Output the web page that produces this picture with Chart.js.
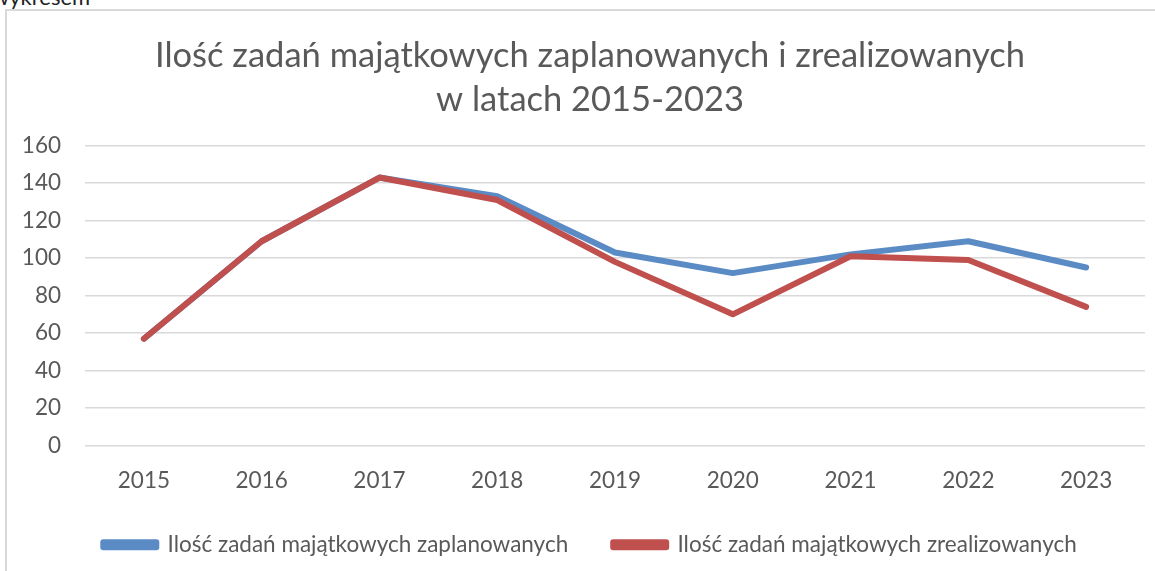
<!DOCTYPE html>
<html>
<head>
    <title>Ilość zadań majątkowych</title>
    <script src="https://cdn.jsdelivr.net/npm/chart.js"></script>
    <style>
        body { margin: 0; overflow: hidden; background: #fff; font-family: Lato, sans-serif; }
        #above { position: absolute; left: -8px; top: -17px; font-size: 22px; color: #222; }
        #frame { position: absolute; left: 5px; top: 9px; width: 1180px; height: 580px;
                 border-left: 2px solid #d9d9d9; border-top: 2px solid #d9d9d9; }
        #box { position: absolute; left: 0; top: 0; width: 1166px; height: 562px; }
    </style>
</head>
<body>
    <div id="above">wykresem</div>
    <div id="frame">
        <div id="box"><canvas id="chart"></canvas></div>
    </div>

    <script>
        const years = ["2015", "2016", "2017", "2018", "2019", "2020", "2021", "2022", "2023"];
        const planned = [57, 109, 143, 133, 103, 92, 102, 109, 95];
        const realized = [57, 109, 143, 131, 98, 70, 101, 99, 74];
        const titleLines = ["Ilość zadań majątkowych zaplanowanych i zrealizowanych", "w latach 2015-2023"];
        const plannedLabel = "Ilość zadań majątkowych zaplanowanych";
        const realizedLabel = "Ilość zadań majątkowych zrealizowanych";

        const textColor = "#595959";
        const ctx = document.getElementById("chart").getContext("2d");

        new Chart(ctx, {
            type: "line",
            data: {
                labels: years,
                datasets: [
                    {
                        label: plannedLabel,
                        data: planned,
                        borderColor: "#5b8bc5",
                        backgroundColor: "#5b8bc5",
                        borderWidth: 6,
                        pointRadius: 0,
                        borderCapStyle: "round",
                        borderJoinStyle: "round",
                        fill: false,
                        tension: 0,
                        order: 1,
                    },
                    {
                        label: realizedLabel,
                        data: realized,
                        borderColor: "#c0504d",
                        backgroundColor: "#c0504d",
                        borderWidth: 6,
                        pointRadius: 0,
                        borderCapStyle: "round",
                        borderJoinStyle: "round",
                        fill: false,
                        tension: 0,
                        order: 0,
                    },
                ],
            },
            options: {
                responsive: true,
                maintainAspectRatio: false,
                animation: false,
                layout: { padding: { left: 0, right: 0, top: 0, bottom: 7 } },
                plugins: {
                    title: {
                        display: true,
                        text: titleLines,
                        color: textColor,
                        font: { family: "Lato", size: 34.5, weight: "normal", lineHeight: 1.3 },
                        padding: { top: 22, bottom: 23 },
                    },
                    legend: {
                        position: "bottom",
                        labels: {
                            color: textColor,
                            font: { family: "Lato", size: 22.5 },
                            boxWidth: 53,
                            boxHeight: 5,
                            padding: 45,
                            sort: (a, b) => a.datasetIndex - b.datasetIndex,
                        },
                    },
                    tooltip: { enabled: false },
                },
                scales: {
                    x: {
                        offset: true,
                        grid: { display: false, drawTicks: false },
                        border: { display: false },
                        ticks: {
                            color: textColor,
                            font: { family: "Lato", size: 22.5 },
                            padding: 22,
                            maxRotation: 0,
                        },
                        afterFit: (scale) => { scale.height = 43; },
                    },
                    y: {
                        min: 0,
                        max: 160,
                        grid: { color: "#d9d9d9", lineWidth: 1.5, drawTicks: false },
                        border: { display: false },
                        ticks: {
                            stepSize: 20,
                            color: textColor,
                            font: { family: "Lato", size: 22.5 },
                            padding: 24,
                        },
                        afterFit: (scale) => { scale.width = 78; },
                    },
                    yRight: {
                        position: "right",
                        display: true,
                        grid: { display: false, drawTicks: false },
                        border: { display: false },
                        ticks: { display: false },
                        afterFit: (scale) => { scale.width = 28; },
                    },
                },
            },
        });
    </script>
</body>
</html>
